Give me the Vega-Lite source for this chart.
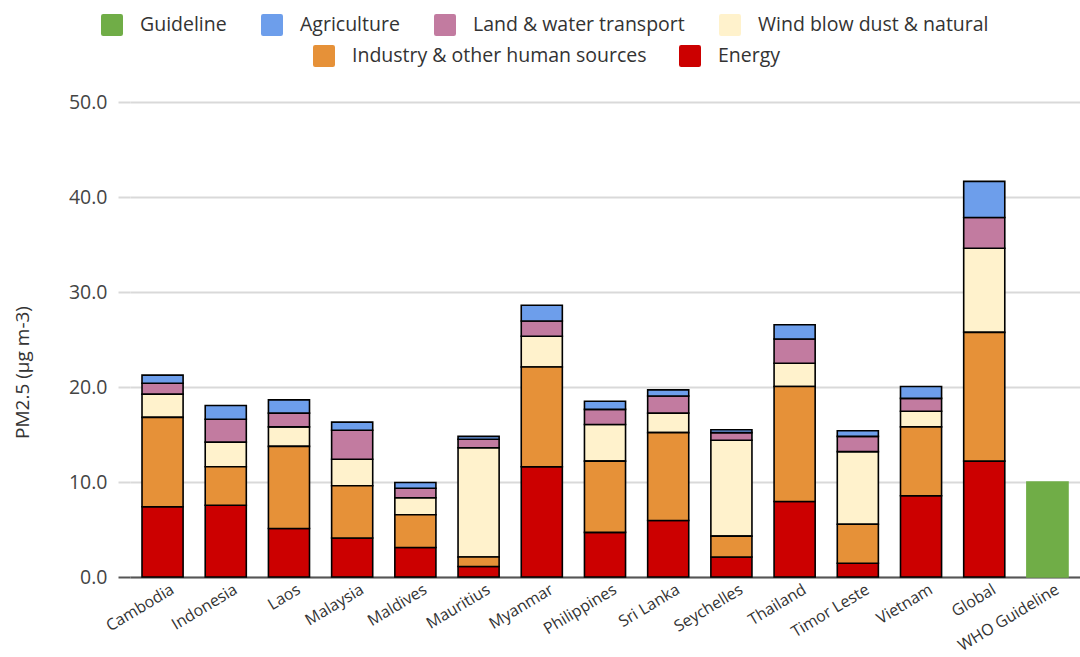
{
  "$schema": "https://vega.github.io/schema/vega-lite/v6.json",
  "width": 950,
  "height": 475,
  "autosize": {"type": "none"},
  "padding": {"left": 130, "top": 102, "right": 0, "bottom": 80},
  "background": "white",
  "config": {
    "view": {"stroke": null},
    "font": "Open Sans"
  },
  "data": {
    "values": [
      {"country": "Cambodia", "source": "Energy", "value": 7.4},
      {"country": "Cambodia", "source": "Industry & other human sources", "value": 9.4},
      {"country": "Cambodia", "source": "Wind blow dust & natural", "value": 2.45},
      {"country": "Cambodia", "source": "Land & water transport", "value": 1.15},
      {"country": "Cambodia", "source": "Agriculture", "value": 0.85},
      {"country": "Indonesia", "source": "Energy", "value": 7.55},
      {"country": "Indonesia", "source": "Industry & other human sources", "value": 4.05},
      {"country": "Indonesia", "source": "Wind blow dust & natural", "value": 2.6},
      {"country": "Indonesia", "source": "Land & water transport", "value": 2.4},
      {"country": "Indonesia", "source": "Agriculture", "value": 1.45},
      {"country": "Laos", "source": "Energy", "value": 5.1},
      {"country": "Laos", "source": "Industry & other human sources", "value": 8.65},
      {"country": "Laos", "source": "Wind blow dust & natural", "value": 2.05},
      {"country": "Laos", "source": "Land & water transport", "value": 1.45},
      {"country": "Laos", "source": "Agriculture", "value": 1.4},
      {"country": "Malaysia", "source": "Energy", "value": 4.1},
      {"country": "Malaysia", "source": "Industry & other human sources", "value": 5.5},
      {"country": "Malaysia", "source": "Wind blow dust & natural", "value": 2.8},
      {"country": "Malaysia", "source": "Land & water transport", "value": 3.05},
      {"country": "Malaysia", "source": "Agriculture", "value": 0.85},
      {"country": "Maldives", "source": "Energy", "value": 3.1},
      {"country": "Maldives", "source": "Industry & other human sources", "value": 3.45},
      {"country": "Maldives", "source": "Wind blow dust & natural", "value": 1.8},
      {"country": "Maldives", "source": "Land & water transport", "value": 1.0},
      {"country": "Maldives", "source": "Agriculture", "value": 0.6},
      {"country": "Mauritius", "source": "Energy", "value": 1.1},
      {"country": "Mauritius", "source": "Industry & other human sources", "value": 1.0},
      {"country": "Mauritius", "source": "Wind blow dust & natural", "value": 11.5},
      {"country": "Mauritius", "source": "Land & water transport", "value": 0.9},
      {"country": "Mauritius", "source": "Agriculture", "value": 0.3},
      {"country": "Myanmar", "source": "Energy", "value": 11.6},
      {"country": "Myanmar", "source": "Industry & other human sources", "value": 10.5},
      {"country": "Myanmar", "source": "Wind blow dust & natural", "value": 3.25},
      {"country": "Myanmar", "source": "Land & water transport", "value": 1.6},
      {"country": "Myanmar", "source": "Agriculture", "value": 1.65},
      {"country": "Philippines", "source": "Energy", "value": 4.7},
      {"country": "Philippines", "source": "Industry & other human sources", "value": 7.5},
      {"country": "Philippines", "source": "Wind blow dust & natural", "value": 3.85},
      {"country": "Philippines", "source": "Land & water transport", "value": 1.6},
      {"country": "Philippines", "source": "Agriculture", "value": 0.85},
      {"country": "Sri Lanka", "source": "Energy", "value": 5.95},
      {"country": "Sri Lanka", "source": "Industry & other human sources", "value": 9.25},
      {"country": "Sri Lanka", "source": "Wind blow dust & natural", "value": 2.05},
      {"country": "Sri Lanka", "source": "Land & water transport", "value": 1.8},
      {"country": "Sri Lanka", "source": "Agriculture", "value": 0.65},
      {"country": "Seychelles", "source": "Energy", "value": 2.1},
      {"country": "Seychelles", "source": "Industry & other human sources", "value": 2.2},
      {"country": "Seychelles", "source": "Wind blow dust & natural", "value": 10.1},
      {"country": "Seychelles", "source": "Land & water transport", "value": 0.8},
      {"country": "Seychelles", "source": "Agriculture", "value": 0.3},
      {"country": "Thailand", "source": "Energy", "value": 7.95},
      {"country": "Thailand", "source": "Industry & other human sources", "value": 12.1},
      {"country": "Thailand", "source": "Wind blow dust & natural", "value": 2.45},
      {"country": "Thailand", "source": "Land & water transport", "value": 2.55},
      {"country": "Thailand", "source": "Agriculture", "value": 1.5},
      {"country": "Timor Leste", "source": "Energy", "value": 1.45},
      {"country": "Timor Leste", "source": "Industry & other human sources", "value": 4.1},
      {"country": "Timor Leste", "source": "Wind blow dust & natural", "value": 7.65},
      {"country": "Timor Leste", "source": "Land & water transport", "value": 1.6},
      {"country": "Timor Leste", "source": "Agriculture", "value": 0.6},
      {"country": "Vietnam", "source": "Energy", "value": 8.55},
      {"country": "Vietnam", "source": "Industry & other human sources", "value": 7.25},
      {"country": "Vietnam", "source": "Wind blow dust & natural", "value": 1.65},
      {"country": "Vietnam", "source": "Land & water transport", "value": 1.35},
      {"country": "Vietnam", "source": "Agriculture", "value": 1.25},
      {"country": "Global", "source": "Energy", "value": 12.2},
      {"country": "Global", "source": "Industry & other human sources", "value": 13.55},
      {"country": "Global", "source": "Wind blow dust & natural", "value": 8.85},
      {"country": "Global", "source": "Land & water transport", "value": 3.25},
      {"country": "Global", "source": "Agriculture", "value": 3.8},
      {"country": "WHO Guideline", "source": "Guideline", "value": 10.0}
    ]
  },
  "transform": [
    {
      "lookup": "source",
      "from": {
        "data": {
          "values": [
            {"source": "Energy", "rank": 1},
            {"source": "Industry & other human sources", "rank": 2},
            {"source": "Wind blow dust & natural", "rank": 3},
            {"source": "Land & water transport", "rank": 4},
            {"source": "Agriculture", "rank": 5},
            {"source": "Guideline", "rank": 6}
          ]
        },
        "key": "source",
        "fields": ["rank"]
      }
    },
    {
      "stack": "value",
      "groupby": ["country"],
      "sort": [{"field": "rank", "order": "ascending"}],
      "as": ["v0", "v1"]
    }
  ],
  "encoding": {
    "x": {
      "field": "country",
      "type": "nominal",
      "sort": ["Cambodia", "Indonesia", "Laos", "Malaysia", "Maldives", "Mauritius", "Myanmar", "Philippines", "Sri Lanka", "Seychelles", "Thailand", "Timor Leste", "Vietnam", "Global", "WHO Guideline"],
      "scale": {"paddingInner": 0.35, "paddingOuter": 0.19},
      "axis": {
        "title": null,
        "labelAngle": -31,
        "labelFont": "Open Sans",
        "labelFontSize": 16,
        "labelColor": "#333333",
        "labelPadding": 4,
        "labelOffset": 6,
        "ticks": false,
        "domainColor": "#555555",
        "domainWidth": 2,
        "grid": false
      }
    },
    "y": {
      "field": "v1",
      "type": "quantitative",
      "scale": {"domain": [0, 50], "nice": false},
      "axis": {
        "title": "PM2.5 (µg m-3)",
        "titleFont": "Open Sans",
        "titleFontSize": 19,
        "titleFontWeight": "normal",
        "titleColor": "#333333",
        "titleX": -108,
        "titleY": 270,
        "titleAngle": -90,
        "titleAlign": "center",
        "titleBaseline": "middle",
        "values": [0, 10, 20, 30, 40, 50],
        "format": ".1f",
        "labelFont": "Open Sans",
        "labelFontSize": 19.5,
        "labelColor": "#444444",
        "labelPadding": 11,
        "tickSize": 12,
        "tickWidth": 2,
        "tickColor": {"condition": {"test": "datum.value === 0", "value": "#555555"}, "value": "#d9d9d9"},
        "gridColor": "#d9d9d9",
        "gridWidth": 2,
        "domain": false
      }
    },
    "y2": {"field": "v0"}
  },
  "layer": [
    {
      "transform": [
        {"filter": {"field": "source", "oneOf": ["Guideline", "Agriculture", "Land & water transport", "Wind blow dust & natural"]}}
      ],
      "mark": {"type": "bar", "strokeWidth": 1.6},
      "encoding": {
        "color": {
          "field": "source",
          "type": "nominal",
          "scale": {
            "domain": ["Guideline", "Agriculture", "Land & water transport", "Wind blow dust & natural"],
            "range": ["#70ad47", "#6d9eeb", "#c27ba0", "#fff2cc"]
          },
          "legend": {
            "title": null,
            "orient": "none",
            "direction": "horizontal",
            "legendX": -29,
            "legendY": -88,
            "padding": 0,
            "symbolType": "M-1,-0.8Q-1,-1,-0.8,-1L0.8,-1Q1,-1,1,-0.8L1,0.8Q1,1,0.8,1L-0.8,1Q-1,1,-1,0.8Z",
            "symbolSize": 484,
            "symbolStrokeWidth": 0,
            "symbolOpacity": 1,
            "labelFont": "Open Sans",
            "labelFontSize": 19.5,
            "labelColor": "#333333",
            "labelOffset": 17,
            "labelLimit": 400,
            "columnPadding": 34
          }
        },
        "stroke": {"condition": {"test": "datum.source === 'Guideline'", "value": "#70ad47"}, "value": "#000000"}
      }
    },
    {
      "transform": [
        {"filter": {"field": "source", "oneOf": ["Industry & other human sources", "Energy"]}}
      ],
      "mark": {"type": "bar", "strokeWidth": 1.6, "stroke": "#000000"},
      "encoding": {
        "color": {
          "field": "source",
          "type": "nominal",
          "scale": {
            "domain": ["Industry & other human sources", "Energy"],
            "range": ["#e69138", "#cc0000"]
          },
          "legend": {
            "title": null,
            "orient": "none",
            "direction": "horizontal",
            "legendX": 183,
            "legendY": -57,
            "padding": 0,
            "symbolType": "M-1,-0.8Q-1,-1,-0.8,-1L0.8,-1Q1,-1,1,-0.8L1,0.8Q1,1,0.8,1L-0.8,1Q-1,1,-1,0.8Z",
            "symbolSize": 484,
            "symbolStrokeWidth": 0,
            "symbolOpacity": 1,
            "labelFont": "Open Sans",
            "labelFontSize": 19.5,
            "labelColor": "#333333",
            "labelOffset": 17,
            "labelLimit": 400,
            "columnPadding": 32
          }
        }
      }
    }
  ],
  "resolve": {"scale": {"color": "independent"}}
}
